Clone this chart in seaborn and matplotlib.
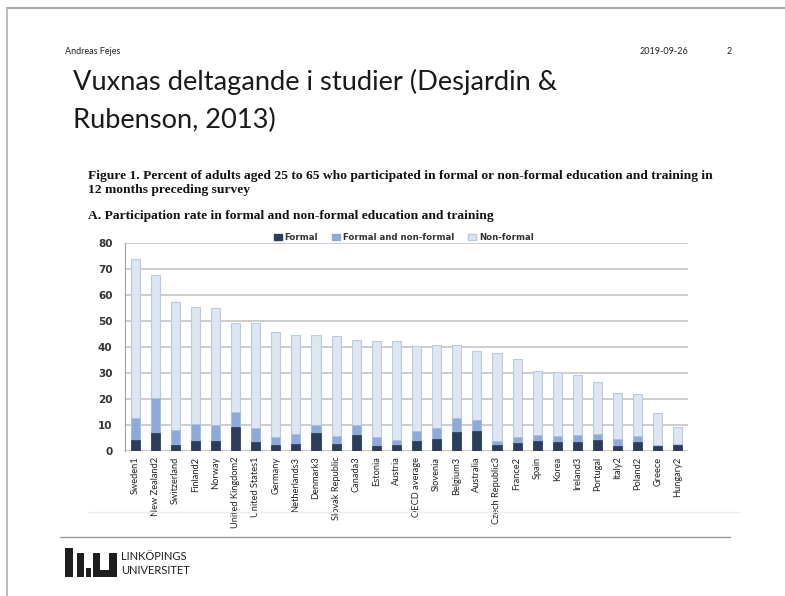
import seaborn as sns
import pandas as pd
from matplotlib import pyplot as plt
from matplotlib.patches import Patch, Rectangle
from matplotlib.lines import Line2D

countries = ['Sweden1', 'New Zealand2', 'Switzerland', 'Finland2', 'Norway',
             'United Kingdom2', 'United States1', 'Germany', 'Netherlands3', 'Denmark3',
             'Slovak Republic', 'Canada3', 'Estonia', 'Austria', 'OECD average',
             'Slovenia', 'Belgium3', 'Australia', 'Czech Republic3', 'France2',
             'Spain', 'Korea', 'Ireland3', 'Portugal', 'Italy2',
             'Poland2', 'Greece', 'Hungary2']
formal = [4.2, 6.8, 2.3, 4.0, 4.0, 9.1, 3.5, 2.3, 2.6, 7.1,
          2.8, 6.3, 2.1, 2.3, 4.0, 4.5, 7.3, 7.7, 2.3, 3.2,
          3.7, 3.5, 3.5, 4.2, 2.1, 3.3, 2.1, 2.4]
formal_and_nonformal = [8.6, 13.5, 5.8, 6.3, 6.0, 6.0, 5.2, 3.1, 4.1, 2.9,
                        3.1, 3.7, 3.2, 1.9, 3.8, 4.5, 5.4, 4.2, 1.7, 2.1,
                        2.3, 2.4, 2.8, 2.3, 2.4, 2.3, 0.3, 0.3]
non_formal = [60.9, 47.5, 49.3, 45.0, 44.9, 34.3, 40.5, 40.2, 38.1, 34.8,
              38.4, 32.5, 36.9, 38.0, 32.5, 31.8, 28.1, 26.4, 33.7, 29.9,
              24.9, 24.3, 22.8, 20.1, 17.8, 16.5, 12.2, 6.5]
legend_labels = ['Formal', 'Formal and non-formal', 'Non-formal']

df = pd.DataFrame({'country': countries, 'formal': formal,
                   'fnf': formal_and_nonformal, 'nonformal': non_formal})
df['level2'] = df['formal'] + df['fnf']
df['total'] = df['level2'] + df['nonformal']

c_formal = '#2c3d5b'
c_fnf = '#8eaad9'
c_nonformal = '#dde6f1'

sns.set_style('white')
fig = plt.figure(figsize=(7.85, 5.96), dpi=100)
fig.patch.set_facecolor('white')


def px(x, y):
    return x / 785, 1 - y / 596


# slide frame
fig.add_artist(Line2D([7 / 785, 1], [1 - 8 / 596] * 2, color='#a8a8a8', lw=1.5))
fig.add_artist(Line2D([7 / 785] * 2, [0, 1 - 8 / 596], color='#b0b0b0', lw=1.2))

# slide header
sans = ['Lato', 'DejaVu Sans']
fig.text(*px(65, 51), 'Andreas Fejes', fontsize=6.5, family=sans, va='center', color='#222222')
fig.text(*px(640, 51), '2019-09-26', fontsize=6.5, family=sans, va='center', color='#222222')
fig.text(*px(727, 51), '2', fontsize=6.5, family=sans, va='center', color='#222222')
fig.text(*px(73, 82), 'Vuxnas deltagande i studier (Desjardin &', fontsize=19.6,
         family=sans, va='center', color='#1a1a1a')
fig.text(*px(73, 120), 'Rubenson, 2013)', fontsize=19.6,
         family=sans, va='center', color='#1a1a1a')

# figure caption
serif = ['Liberation Serif', 'DejaVu Serif']
cap = dict(fontsize=9.7, family=serif, weight='bold', va='center', color='#111111')
fig.text(*px(88, 176), 'Figure 1. Percent of adults aged 25 to 65 who participated in formal or non-formal education and training in', **cap)
fig.text(*px(88, 190), '12 months preceding survey', **cap)
fig.text(*px(88, 216), 'A. Participation rate in formal and non-formal education and training', **cap)

ax = fig.add_axes([125 / 785, 1 - 451 / 596, 563 / 785, 208 / 596])
bw = 0.45
sns.barplot(data=df, x='country', y='total', color=c_nonformal, width=bw,
            edgecolor='#b8cbe3', linewidth=0.8, ax=ax, saturation=1)
sns.barplot(data=df, x='country', y='level2', color=c_fnf, width=bw,
            edgecolor='#a9bfe3', linewidth=0.5, ax=ax, saturation=1)
sns.barplot(data=df, x='country', y='formal', color=c_formal, width=bw,
            edgecolor=c_formal, linewidth=0.5, ax=ax, saturation=1)

ax.set_ylim(0, 80)
ax.set_xlim(-0.5, 27.5)
ax.set_yticks(range(0, 81, 10))
ax.yaxis.grid(True, color='#c0c0c0', linewidth=1.1)
ax.set_axisbelow(True)
ax.set_xlabel('')
ax.set_ylabel('')
for s in ['top', 'right', 'bottom']:
    ax.spines[s].set_visible(False)
ax.spines['left'].set_color('#a0a0a0')
ax.tick_params(axis='y', length=3, color='#a0a0a0', labelsize=7.5, labelcolor='#333333', pad=6)
for lab in ax.get_yticklabels():
    lab.set_fontweight('bold')
ax.set_xticks(range(len(countries)))
ax.set_xticklabels(countries, rotation=90, fontsize=6.7,
                   family=['Lato', 'DejaVu Sans'], color='#222222')
ax.tick_params(axis='x', length=0, pad=4)
ax.set_xticks([i + 0.5 for i in range(-1, len(countries))], minor=True)
ax.tick_params(axis='x', which='minor', length=3, color='#a0a0a0')

handles = [Patch(facecolor=c_formal, edgecolor=c_formal),
           Patch(facecolor=c_fnf, edgecolor=c_fnf),
           Patch(facecolor=c_nonformal, edgecolor='#b8cbe3')]
leg = ax.legend(handles, legend_labels, loc='lower center', bbox_to_anchor=(0.495, 0.985),
                ncol=3, frameon=False, fontsize=6.2, handlelength=0.9, handleheight=0.7,
                handletextpad=0.3, columnspacing=1.7, borderpad=0)
for t in leg.get_texts():
    t.set_fontweight('bold')
    t.set_color('#333333')

# slide footer
fig.add_artist(Line2D([88 / 785, 740 / 785], [1 - 512 / 596] * 2, color='#eeeeee', lw=1))
fig.add_artist(Line2D([60 / 785, 730 / 785], [1 - 537 / 596] * 2, color='#999999', lw=1))
dark = '#1e1e1e'
for x0, y0, w, h, col in [(65, 548, 8, 29, dark), (77, 553, 7, 24, dark), (86, 568, 5, 9, dark),
                          (93, 553, 24, 24, dark), (100, 553, 9, 17, 'white')]:
    fig.add_artist(Rectangle(px(x0, y0 + h), w / 785, h / 596, color=col,
                             transform=fig.transFigure, lw=0))
fig.text(*px(121, 557), 'LINKÖPINGS', fontsize=8, family=sans, va='center', color=dark)
fig.text(*px(121, 571), 'UNIVERSITET', fontsize=8, family=sans, va='center', color=dark)

fig.savefig('out.png', dpi=100)
